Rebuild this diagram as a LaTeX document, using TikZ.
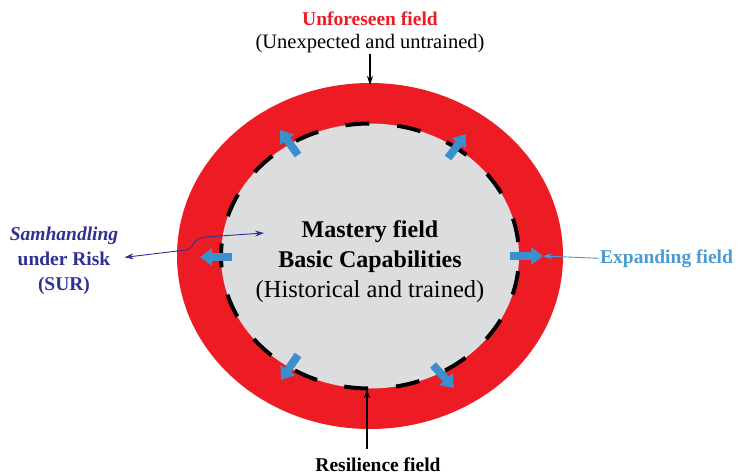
\documentclass[tikz,border=0pt]{standalone}
\usepackage{fontspec}
\setmainfont{Liberation Serif}
\usetikzlibrary{arrows.meta}
\definecolor{ringred}{HTML}{ED1C24}
\definecolor{coregray}{HTML}{DCDDDF}
\definecolor{blockblue}{HTML}{3B8FCD}
\definecolor{expblue}{HTML}{4A9AD4}
\definecolor{surnavy}{HTML}{2E3192}
\begin{document}
\begin{tikzpicture}[x=1pt,y=-1pt,
  lbl/.style={inner sep=1pt,anchor=base,font=\fontsize{19.5}{22}\selectfont\bfseries},
  centre/.style={inner sep=1pt,anchor=base,font=\fontsize{24}{28}\selectfont\bfseries},
  blockarrow/.style={draw=blockblue,line width=8pt,-{Triangle[length=12pt,width=17pt]}},
  blackarrow/.style={draw=black,line width=1.1pt,-{Stealth[length=9pt,width=6pt]}},
  thinarrow/.style={line width=0.9pt,-{Stealth[length=9pt,width=6pt]}},
]
\useasboundingbox (0,0) rectangle (738,474);
% rings
\fill[ringred] (370,256) ellipse [x radius=193pt, y radius=173pt];
\fill[coregray] (370,256) ellipse [x radius=149pt, y radius=132.5pt];
\draw[black,line width=4pt,dash pattern=on 24pt off 28pt,dash phase=38pt] (370,256) ellipse [x radius=149pt, y radius=132.5pt];

% coordinates on the rings
\coordinate (toppt) at (370,85);
\coordinate (botpt) at (367,389);
\coordinate (rtip) at (543,256);
\coordinate (surtip) at (264,233);

% blue expansion arrows
\coordinate (a1s) at (298,155); \coordinate (a1e) at (280,130);
\coordinate (a2s) at (448,158); \coordinate (a2e) at (466,134);
\coordinate (a3s) at (298,355); \coordinate (a3e) at (281,380);
\coordinate (a4s) at (433,365); \coordinate (a4e) at (454,388);
\coordinate (a5s) at (232,257); \coordinate (a5e) at (200,257);
\coordinate (a6s) at (510,256); \coordinate (a6e) at (rtip);
\foreach \i in {1,...,6} {\draw[blockarrow] (a\i s) -- (a\i e);}

% top labels
\node[lbl,text=ringred] (unf) at (370,25) {Unforeseen field};
\node[inner sep=1pt,anchor=base,font=\fontsize{20.5}{24}\selectfont] (unexp) at (370,48) {(Unexpected and untrained)};
\draw[blackarrow] (unexp.south) -- (toppt);

% centre
\node[centre] (m1) at (370,237) {Mastery field};
\node[centre] (m2) at (370,267) {Basic Capabilities};
\node[inner sep=1pt,anchor=base,font=\fontsize{24.5}{28}\selectfont] (m3) at (370,297) {(Historical and trained)};

% bottom
\node[lbl] (resil) at (378,471) {Resilience field};
\draw[blackarrow,shorten <=7pt] (resil.north -| botpt) -- (botpt);

% right
\node[lbl,text=expblue,anchor=base west] (exp) at (599,263) {Expanding field};
\draw[thinarrow,draw=expblue] (exp.west) -- (rtip);

% left
\node[lbl,text=surnavy] (s1) at (64,240) {\itshape Samhandling};
\node[lbl,text=surnavy] (s2) at (64,265) {under Risk};
\node[lbl,text=surnavy] (s3) at (64,290) {(SUR)};
\draw[thinarrow,draw=surnavy,{Stealth[length=9pt,width=6pt]}-{Stealth[length=9pt,width=6pt]}]
  ([xshift=13pt,yshift=1pt]s2.east) -- (186,250) .. controls (194,249) and (192,238) .. (205,237) -- (surtip);
\end{tikzpicture}
\end{document}
